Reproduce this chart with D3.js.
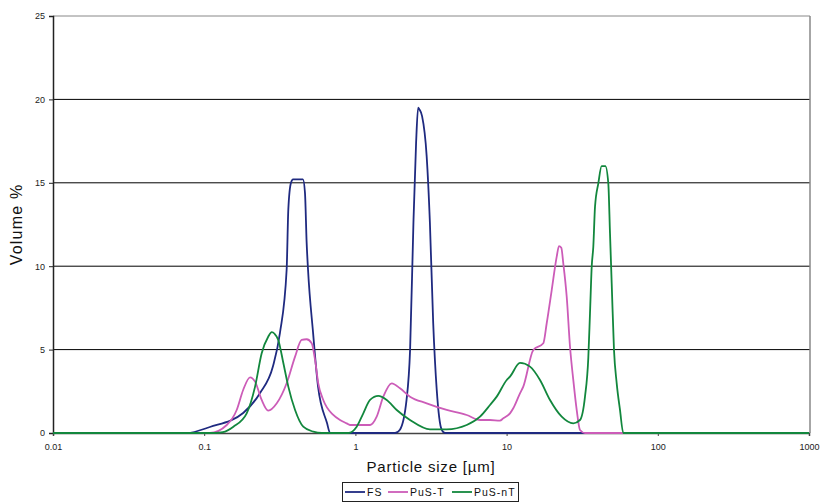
<!DOCTYPE html>
<html><head><meta charset="utf-8">
<script src="https://cdn.jsdelivr.net/npm/d3@7"></script>
<style>
html,body{margin:0;padding:0;background:#fff;}
svg{display:block;font-family:"Liberation Sans",Arial,sans-serif;}
</style></head>
<body>
<svg id="chart" width="821" height="504"></svg>
<script>
// ---- data (particle size in µm, volume %) ----
const seriesNames = ["FS", "PuS-T", "PuS-nT"];
const seriesColors = ["#1f2a80", "#cc5cb8", "#12873d"];
const xTicks = [0.01, 0.1, 1, 10, 100, 1000];
const xTickLabels = ["0.01", "0.1", "1", "10", "100", "1000"];
const yTicks = [0, 5, 10, 15, 20, 25];

const fsData = [
  [0.01,0],[0.0769,0],[0.109,0.36],[0.181,1.2],[0.234,2.4],[0.285,4.0],[0.317,6.0],
  [0.351,9.8],[0.360,13.4],[0.375,15.0],[0.387,15.2],[0.450,15.2],[0.464,14.4],[0.476,11.4],
  [0.486,9.8],[0.525,6.0],[0.566,2.8],[0.649,0.6],[0.680,0],[1.83,0],[1.97,0.2],[2.18,2.0],
  [2.30,5.0],[2.42,12.6],[2.52,17.4],[2.60,19.5],[2.65,19.4],[2.76,19.0],[2.96,16.6],
  [3.11,12.6],[3.27,6.6],[3.45,2.6],[3.72,0.2],[3.91,0],[1000,0]
];
const pusTData = [
  [0.01,0],[0.109,0],[0.141,0.48],[0.164,1.38],[0.181,2.58],[0.201,3.34],[0.217,3.08],
  [0.240,1.98],[0.265,1.34],[0.302,1.78],[0.351,2.98],[0.399,4.58],[0.441,5.58],[0.476,5.62],
  [0.514,5.38],[0.541,4.38],[0.568,2.98],[0.613,1.98],[0.714,1.08],[0.791,0.78],[0.876,0.58],
  [0.921,0.48],[1.25,0.48],[1.383,0.98],[1.529,2.18],[1.739,2.98],[1.972,2.68],[2.297,2.18],
  [2.962,1.78],[4.017,1.38],[5.446,1.08],[6.671,0.78],[7.768,0.78],[9.04,0.74],[9.51,0.88],
  [10.53,1.18],[11.07,1.48],[12.26,2.38],[12.89,2.78],[15.02,4.98],[17.49,5.38],[18.42,6.58],
  [19.88,8.57],[21.45,10.57],[22.2,11.2],[23.0,11.1],[23.71,10.17],[24.98,8.17],[26.27,5.17],
  [27.61,3.18],[29.08,1.38],[30.58,0.18],[33.0,0],[1000,0]
];
const pusNTData = [
  [0.01,0],[0.118,0],[0.133,0.05],[0.156,0.38],[0.191,1.18],[0.217,2.78],[0.240,4.78],
  [0.265,5.77],[0.280,6.05],[0.292,5.95],[0.309,5.58],[0.334,4.18],[0.360,2.78],[0.399,1.38],
  [0.452,0.38],[0.527,0.08],[0.60,0],[0.898,0],[1.02,0.38],[1.128,1.18],[1.25,1.98],
  [1.418,2.22],[1.611,1.98],[1.876,1.38],[2.297,0.78],[3.114,0.22],[4.017,0.22],[5.446,0.48],
  [6.671,0.98],[7.768,1.68],[8.602,2.18],[10.02,3.18],[10.53,3.38],[12.26,4.2],[14.28,3.98],
  [16.63,3.18],[19.37,1.98],[23.14,0.98],[27.61,0.58],[30.58,0.78],[33.0,2.18],[34.7,4.5],
  [35.61,7.18],[36.55,9.97],[37.45,11.17],[38.44,13.57],[40.42,14.97],[42.5,16.0],[45.0,16.0],
  [47.06,14.97],[48.29,11.97],[49.55,8.98],[51.32,4.98],[53.48,2.98],[56.23,1.38],[59.12,0],[1000,0]
];
const allSeries = [fsData, pusTData, pusNTData];

// ---- chart ----
const svg = d3.select("#chart");
const mL = 53, mR = 809, mT = 16, mB = 433;
const x = d3.scaleLog().domain([0.01, 1000]).range([mL, mR]);
const y = d3.scaleLinear().domain([0, 25]).range([mB, mT]);

// gridlines
svg.append("g").selectAll("line").data(yTicks.filter(d => d > 0)).join("line")
  .attr("x1", mL).attr("x2", mR + 1)
  .attr("y1", d => y(d)).attr("y2", d => y(d))
  .attr("stroke", d => d === 25 ? "#888" : "#000").attr("stroke-width", 1);
// right border
svg.append("line").attr("x1", mR + 1).attr("x2", mR + 1).attr("y1", mT).attr("y2", mB)
  .attr("stroke", "#888").attr("stroke-width", 1.5);

// axes
const yAxis = d3.axisLeft(y).tickValues(yTicks).tickSize(4).tickPadding(4).tickFormat(d3.format("d"));
const gy = svg.append("g").attr("transform", `translate(${mL},0)`).call(yAxis);
gy.select(".domain").attr("stroke", "#222").attr("stroke-width", 1.5);
gy.selectAll(".tick line").attr("stroke", "#222");
gy.selectAll(".tick text").attr("font-size", 9).attr("fill", "#222")
  .attr("font-family", "Liberation Sans, Arial, sans-serif");

const xAxis = d3.axisBottom(x).tickValues(xTicks).tickSize(3).tickPadding(8)
  .tickFormat((d, i) => xTickLabels[i]);
const gx = svg.append("g").attr("transform", `translate(0,${mB})`).call(xAxis);
gx.select(".domain").attr("stroke", "#444").attr("stroke-width", 1.5);
gx.selectAll(".tick line").attr("stroke", "#444");
gx.selectAll(".tick text").attr("font-size", 9).attr("fill", "#222")
  .attr("font-family", "Liberation Sans, Arial, sans-serif");

// series
const line = d3.line().x(d => x(d[0])).y(d => y(d[1])).curve(d3.curveMonotoneX);
allSeries.forEach((s, i) => {
  svg.append("path").datum(s).attr("d", line).attr("fill", "none")
    .attr("stroke", seriesColors[i]).attr("stroke-width", 1.8)
    .attr("stroke-linejoin", "round");
});

// axis titles
svg.append("text").attr("transform", `translate(22,${(mT + mB) / 2}) rotate(-90)`)
  .attr("text-anchor", "middle").attr("font-size", 16).attr("letter-spacing", 1.2)
  .attr("fill", "#111").text("Volume %");
svg.append("text").attr("x", 431).attr("y", 472).attr("text-anchor", "middle")
  .attr("font-size", 15).attr("letter-spacing", 0.8).attr("fill", "#111")
  .text("Particle size [µm]");

// legend
const lg = svg.append("g");
lg.append("rect").attr("x", 342.5).attr("y", 482.5).attr("width", 176).attr("height", 19)
  .attr("fill", "#fff").attr("stroke", "#222").attr("stroke-width", 1);
const legX = [345, 388, 452];
seriesNames.forEach((n, i) => {
  lg.append("line").attr("x1", legX[i]).attr("x2", legX[i] + 20).attr("y1", 492).attr("y2", 492)
    .attr("stroke", seriesColors[i]).attr("stroke-width", 1.8);
  lg.append("text").attr("x", legX[i] + 22).attr("y", 496).attr("font-size", 10.5)
    .attr("letter-spacing", 1).attr("fill", "#111").text(n);
});
</script>
</body></html>
